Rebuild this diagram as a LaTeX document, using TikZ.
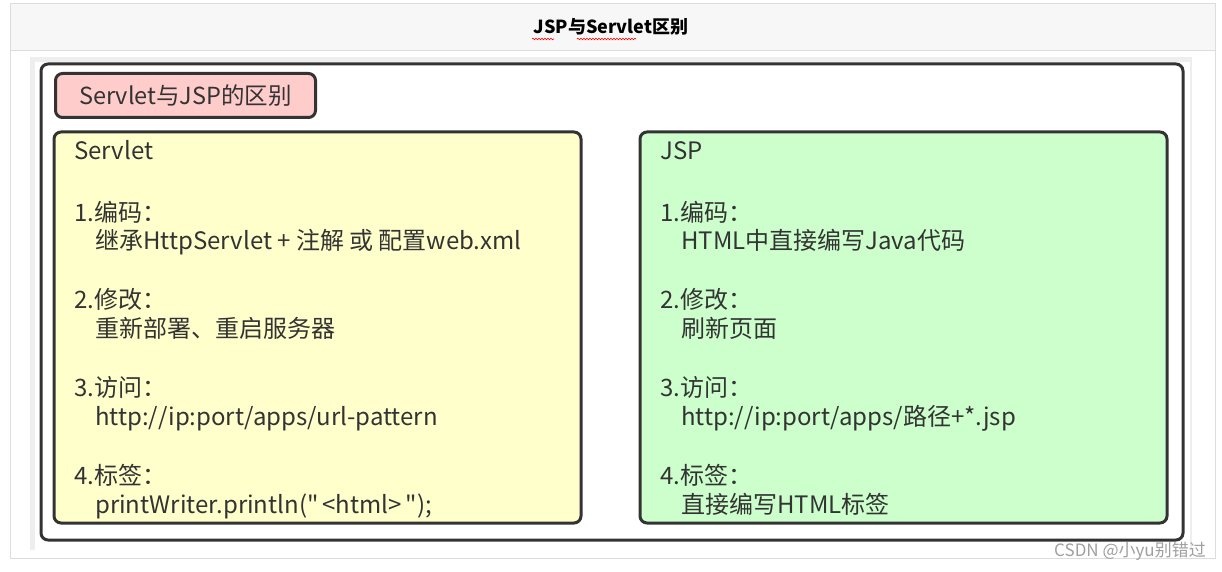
\documentclass[tikz,border=0pt]{standalone}
\usepackage{fontspec}
\setmainfont{Noto Sans CJK SC}
\newfontfamily\cjkplain{Noto Sans CJK SC}
\usetikzlibrary{decorations.pathmorphing}
\definecolor{hdrbg}{HTML}{F7F7F7}
\definecolor{hdrline}{HTML}{DDDDDD}
\definecolor{panelgray}{HTML}{EEEEEE}
\definecolor{frame}{HTML}{333333}
\definecolor{pinkfill}{HTML}{FFCCCC}
\definecolor{yellowfill}{HTML}{FFFFCC}
\definecolor{greenfill}{HTML}{CCFFCC}
\definecolor{txt}{HTML}{333333}
\definecolor{wm}{HTML}{A0A0A0}
\tikzset{
  box/.style={draw=frame, line width=3pt, rounded corners=7pt},
  line/.style={anchor=base west, inner sep=0pt, text=txt, font=\cjkplain\fontsize{24}{28}\selectfont},
}
\begin{document}
\begin{tikzpicture}[x=1pt,y=-1pt]
\useasboundingbox (0,0) rectangle (1222,572);
\fill[white] (0,0) rectangle (1222,572);
% outer frame
\draw[hdrline, fill=white] (10,3) rectangle (1215,558);
\draw[hdrline, fill=hdrbg] (10,3) rectangle (1215,50);
\node[anchor=base, inner sep=0pt, font=\fontsize{18}{21}\selectfont\bfseries] (title) at (611,34) {JSP与Servlet区别};
\draw[red, line width=0.6pt, decorate, decoration={snake, amplitude=0.8pt, segment length=3pt}] (532,39) -- (554,39);
\draw[red, line width=0.6pt, decorate, decoration={snake, amplitude=0.8pt, segment length=3pt}] (577,39) -- (636,39);
% inner panel
\fill[panelgray] (30,57) rectangle (1192,550);
\fill[white] (35,62) rectangle (1190,550);
% main frame
\draw[box, fill=white] (41,64) rectangle (1183,540);
% pink header
\node[box, fill=pinkfill, minimum width=260pt, minimum height=44pt, anchor=north west, inner sep=0pt, text=txt, font=\fontsize{23.5}{27}\selectfont] (hdr) at (54,72) {Servlet与JSP的区别};
% yellow box
\draw[box, fill=yellowfill] (54,132) rectangle (581,523);
\node[line] (s0) at (74,160) {Servlet};
\node[line] (s1) at (74,221) {1.编码：};
\node[line] (s2) at (95,249) {继承HttpServlet + 注解 或 配置web.xml};
\node[line] (s3) at (74,308) {2.修改：};
\node[line] (s4) at (95,337) {重新部署、重启服务器};
\node[line] (s5) at (74,396) {3.访问：};
\node[line] (s6) at (95,425) {http://ip:port/apps/url-pattern};
\node[line] (s7) at (74,484) {4.标签：};
\node[line] (s8) at (95,513) {printWriter.println("\,<html>\,");};
% green box
\draw[box, fill=greenfill] (640,132) rectangle (1167,523);
\node[line] (j0) at (660,160) {JSP};
\node[line] (j1) at (660,221) {1.编码：};
\node[line] (j2) at (681,249) {HTML中直接编写Java代码};
\node[line] (j3) at (660,308) {2.修改：};
\node[line] (j4) at (681,337) {刷新页面};
\node[line] (j5) at (660,396) {3.访问：};
\node[line] (j6) at (681,425) {http://ip:port/apps/路径+*.jsp};
\node[line] (j7) at (660,484) {4.标签：};
\node[line] (j8) at (681,513) {直接编写HTML标签};
% watermark
\node[anchor=base east, inner sep=0pt, text=wm, font=\fontsize{17}{20}\selectfont] (wmk) at (1206,556) {CSDN @小yu别错过};
\end{tikzpicture}
\end{document}
